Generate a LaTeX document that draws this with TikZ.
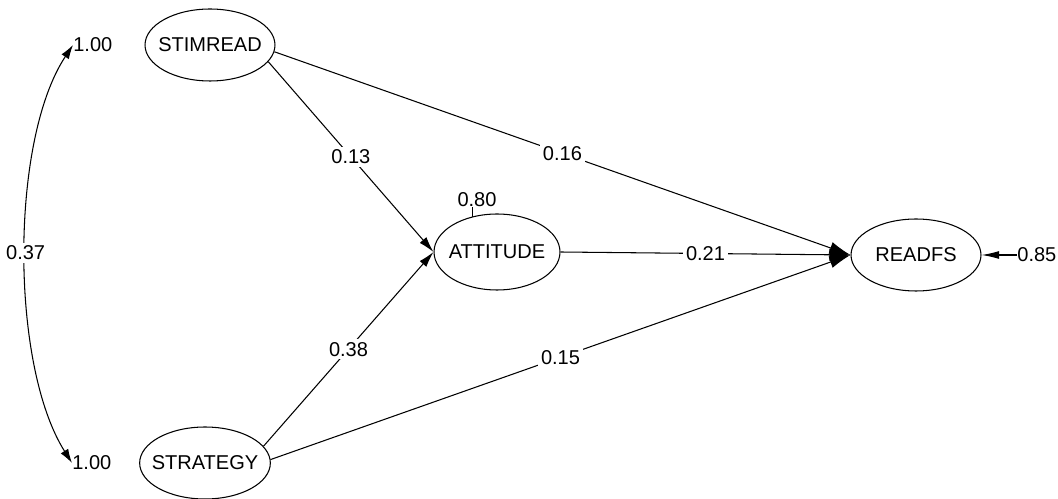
\documentclass[tikz,border=0pt]{standalone}
\usepackage{fontspec}
\setmainfont{Liberation Sans}
\usetikzlibrary{arrows.meta, shapes.geometric, positioning}
\tikzset{
  >=Latex,  % punte piene
  % Variabili osservate
  var/.style={ellipse,draw,line width=0.6pt,minimum width=2.6cm,minimum height=1.44cm,inner xsep=-4pt,inner ysep=0pt},
  % Coefficienti
  coef/.style={fill=white,inner sep=1.5pt},
  lab/.style={inner sep=0pt},
  % Percorsi
  reg/.style={-{Latex[length=9pt,width=5pt]},line width=0.6pt},
  reg big/.style={-{Latex[length=12pt,width=7pt]},line width=0.6pt},
  res/.style={-{Latex[length=10pt,width=4.5pt]},line width=0.6pt},
  cov/.style={{Latex[length=8pt,width=5pt]}-{Latex[length=8pt,width=5pt]},line width=0.6pt}
}
\begin{document}
\begin{tikzpicture}[x=0.02cm,y=-0.02cm,font=\fontsize{11.4}{13.5}\selectfont]
\useasboundingbox (0,0) rectangle (1058,499);

% Variabili
\node[var] (stim) at (210,45) {STIMREAD};
\node[var] (strat) at (205,463) {STRATEGY};
\node[var,minimum width=2.52cm,minimum height=1.52cm] (att) at (497,252) {ATTITUDE};
\node[var] (read) at (916,255) {READFS};

% Effetti diretti
\draw[reg] (stim.-16) -- node[coef] {0.13} (att.west);
\draw[reg] (strat.16) -- node[coef] {0.38} (att.west);
\draw[reg big] (stim.-6) -- node[coef] {0.16} (read.west);
\draw[reg big] (strat.3) -- node[coef] {0.15} (read.west);
\draw[reg big] (att.east) -- node[coef] {0.21} (read.west);

% Residui
\node[lab,anchor=west] (e3) at (1017,255) {0.85};
\draw[res] (e3.west) -- (read.east);
\node[lab,anchor=south] (e2) at (477,207) {0.80};
\draw[line width=0.6pt] (att.125) -- (att.125 |- e2.south);

% Varianze e covarianza
\node[lab,anchor=west] (v1) at (73,45) {1.00};
\node[lab,anchor=west] (v2) at (72,463) {1.00};
\draw[cov] (v1.west) .. controls (10,140) and (10,365) .. (v2.west) node[pos=0.5,coef] {0.37};

\end{tikzpicture}
\end{document}
